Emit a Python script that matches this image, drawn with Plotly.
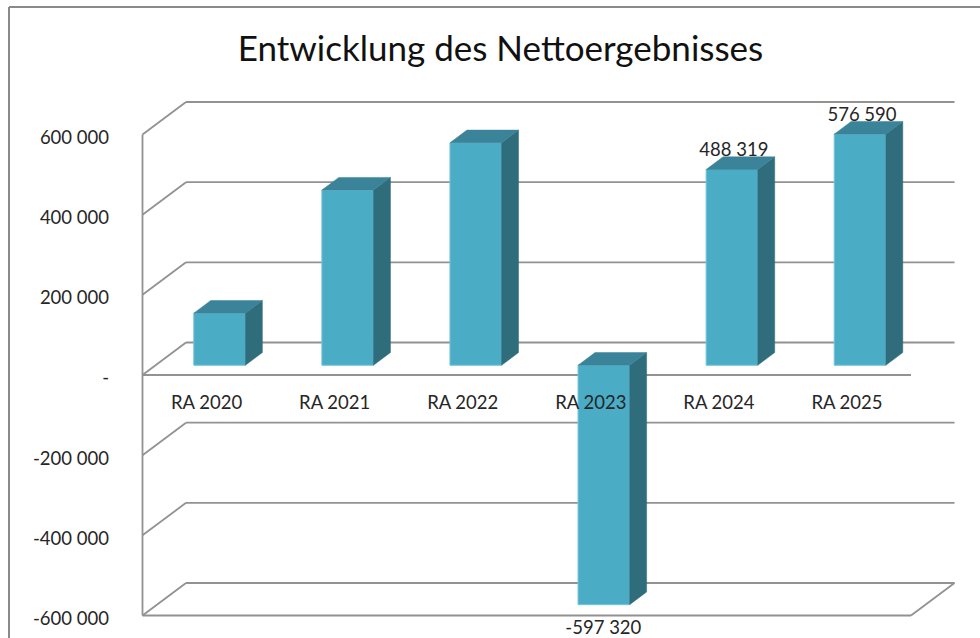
import plotly.graph_objects as go

# --- data ---
categories = ["RA 2020", "RA 2021", "RA 2022", "RA 2023", "RA 2024", "RA 2025"]
net_result = [130000, 437000, 555000, -597320, 488319, 576590]
labelled = {3: "-597 320", 4: "488 319", 5: "576 590"}
y_ticks = [600000, 400000, 200000, 0, -200000, -400000, -600000]
y_tick_text = ["600 000", "400 000", "200 000", "-", "-200 000", "-400 000", "-600 000"]
title_text = "Entwicklung des Nettoergebnisses"

# --- oblique projection (pixels per axis unit) ---
W, H = 980, 638
L, R, T, B = 140, 958, 99, 638          # plot area edges in pixels
FL, FR = 142.5, 911.0                   # front plane left/right
Y0 = 375.0                              # pixel of value 0 on front plane
K = 240.5 / 600000                      # px per value unit
CAT = (FR - FL) / len(categories)       # px per category
DEPTH_X, DEPTH_Y = 43.5, 32.5           # wall depth in px
BAR_W = 51.6 / CAT
D1, D2 = 0.30, 0.69                     # front & back depth of bars


def xs(cat, depth=0.0):
    return cat + depth * DEPTH_X / CAT


def ys(val, depth=0.0):
    return val + depth * DEPTH_Y / K


def paper_x(px):
    return (px - L) / (R - L)


def paper_y(py):
    return (B - py) / (B - T)


x_range = [(L - FL) / CAT - 0.5, (R - FL) / CAT - 0.5]
y_range = [(Y0 - B) / K, (Y0 - T) / K]

GRID = "#929292"
TXT = "#262626"
FONT = "Lato"

shapes = []


def seg(x0, y0, x1, y1, color=GRID, width=1.8):
    shapes.append(dict(type="line", xref="x", yref="y", x0=x0, y0=y0, x1=x1, y1=y1,
                       line=dict(color=color, width=width), layer="below"))


x_left, x_right = -0.5, len(categories) - 0.5
for t in y_ticks:
    seg(xs(x_left), ys(t), xs(x_left, 1), ys(t, 1))
    seg(xs(x_left, 1), ys(t, 1), xs(x_right, 1), ys(t, 1))
# left wall edge, floor at zero, bottom floor
seg(xs(x_left), ys(y_ticks[0]), xs(x_left), ys(y_ticks[-1]))
seg(xs(x_left), ys(0), xs(x_right), ys(0))
seg(xs(x_left), ys(y_ticks[-1]), xs(x_right), ys(y_ticks[-1]))
seg(xs(x_right), ys(y_ticks[-1]), xs(x_right, 1), ys(y_ticks[-1], 1))

# chart frame (left and top edges only)
FRAME = dict(color="#8a8a8a", width=2)
shapes.append(dict(type="line", xref="paper", yref="paper", x0=paper_x(9), x1=paper_x(9),
                   y0=paper_y(H), y1=paper_y(7), line=FRAME))
shapes.append(dict(type="line", xref="paper", yref="paper", x0=paper_x(9), x1=paper_x(W),
                   y0=paper_y(7), y1=paper_y(7), line=FRAME))

fig = go.Figure()

# front faces
fig.add_trace(go.Bar(
    x=[xs(i, D1) for i in range(len(categories))],
    y=net_result,
    base=[ys(0, D1)] * len(categories),
    width=BAR_W,
    marker=dict(color="#4BACC6", line=dict(color="#74C4D9", width=1)),
    showlegend=False,
    hoverinfo="skip",
))

# side and top faces
side_x, side_y, top_x, top_y = [], [], [], []
for i, v in enumerate(net_result):
    a, b = i - BAR_W / 2, i + BAR_W / 2
    hi, lo = max(v, 0), min(v, 0)
    side_x += [xs(b, D1), xs(b, D2), xs(b, D2), xs(b, D1), xs(b, D1), None]
    side_y += [ys(lo, D1), ys(lo, D2), ys(hi, D2), ys(hi, D1), ys(lo, D1), None]
    top_x += [xs(a, D1), xs(b, D1), xs(b, D2), xs(a, D2), xs(a, D1), None]
    top_y += [ys(hi, D1), ys(hi, D1), ys(hi, D2), ys(hi, D2), ys(hi, D1), None]
fig.add_trace(go.Scatter(x=side_x, y=side_y, mode="lines", fill="toself", fillcolor="#2F6C7C",
                         line=dict(color="#2F6C7C", width=0.5), showlegend=False, hoverinfo="skip"))
fig.add_trace(go.Scatter(x=top_x, y=top_y, mode="lines", fill="toself", fillcolor="#3A8399",
                         line=dict(color="#3A8399", width=0.5), showlegend=False, hoverinfo="skip"))

# data labels
lab_x, lab_y, lab_t = [], [], []
for i, t in labelled.items():
    v = net_result[i]
    lab_x.append(xs(i, D1) + (2 / CAT if v > 0 else -0.5 / CAT))
    lab_y.append(ys(v, D1) + (18 / K if v > 0 else -25 / K))
    lab_t.append(t)
fig.add_trace(go.Scatter(x=lab_x, y=lab_y, mode="text", text=lab_t, textposition="middle center",
                         textfont=dict(family=FONT, size=18.5, color=TXT), cliponaxis=False,
                         showlegend=False, hoverinfo="skip"))

fig.update_layout(
    width=W, height=H, autosize=False,
    margin=dict(l=L, r=W - R, t=T, b=H - B),
    paper_bgcolor="white", plot_bgcolor="white",
    shapes=shapes, showlegend=False,
    title=dict(text=title_text, x=500.5 / W, xanchor="center", y=1 - 49 / H, yanchor="middle",
               font=dict(family=FONT, size=35, color="#111111")),
    xaxis=dict(range=x_range, tickmode="array", tickvals=list(range(len(categories))), ticktext=categories,
               showgrid=False, zeroline=False, showline=False, ticks="", anchor="free",
               position=paper_y(Y0), ticklabelstandoff=14,
               tickfont=dict(family=FONT, size=18.5, color=TXT)),
    yaxis=dict(range=y_range, tickmode="array", tickvals=y_ticks, ticktext=y_tick_text,
               showgrid=False, zeroline=False, showline=False, ticks="", ticklabelstandoff=30,
               ticklabelshift=3,
               tickfont=dict(family=FONT, size=18.5, color=TXT)),
)

fig.write_html("out.html", config={"displayModeBar": False},
               post_script="document.body.style.margin='0';document.body.style.overflow='hidden';")
